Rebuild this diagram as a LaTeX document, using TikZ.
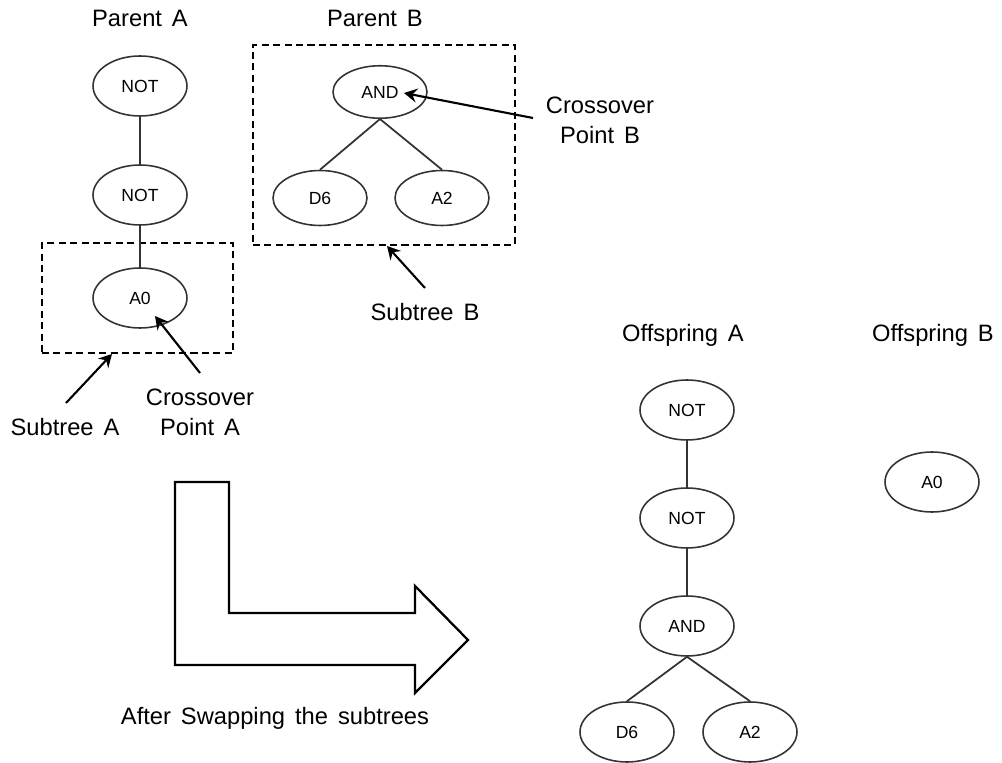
\documentclass[tikz,border=0pt]{standalone}
\usepackage{fontspec}
\setmainfont{Liberation Sans}
\usetikzlibrary{arrows.meta,positioning,shapes.geometric}
\newcommand{\titlefont}{\fontsize{13.5}{17}\selectfont\spaceskip=0.42em\relax}

\begin{document}
\begin{tikzpicture}[x=0.02cm, y=-0.02cm,
    gnode/.style={draw=black!80, line width=0.9pt, ellipse, minimum width=1.88cm, minimum height=1.2cm, inner sep=0pt, font=\fontsize{10}{12}\selectfont},
    title/.style={font=\titlefont, align=center},
    subbox/.style={draw, dashed, line width=1.1pt, dash pattern=on 4pt off 2.5pt, inner sep=0pt},
    edge/.style={draw=black!80, line width=1pt},
    ptr/.style={line width=1.2pt, -{Stealth[length=2.6mm, width=2.8mm, inset=0.9mm]}}]
  \useasboundingbox (0,0) rectangle (1002,763);
  % parent A
  \node[title] (titA) at (140,18) {Parent A};
  \node[gnode] (notA1) at (140,86) {NOT};
  \node[gnode] (notA2) at (140,195) {NOT};
  \node[gnode] (a0A) at (140,298) {A0};
  \node[subbox, minimum width=3.82cm, minimum height=2.2cm] (boxA) at (137.5,298) {};
  \node[title] (subA) at (65,427) {Subtree A};
  \node[title] (crossA) at (200,412) {Crossover\\Point A};
  \coordinate (tailA) at (66,403);
  \coordinate (tipA) at (112,354);
  \coordinate (tailPA) at (200,373);
  \coordinate (tipPA) at (155,316);
  % parent B
  \node[title] (titB) at (375,18) {Parent B};
  \node[gnode, minimum height=1.05cm] (andB) at (380,92) {AND};
  \node[gnode, minimum height=1.1cm] (d6B) at (320,198) {D6};
  \node[gnode, minimum height=1.1cm] (a2B) at (442,198) {A2};
  \node[subbox, minimum width=5.24cm, minimum height=4cm] (boxB) at (384,145) {};
  \node[title] (crossB) at (600,120) {Crossover\\Point B};
  \node[title] (subB) at (425,312) {Subtree B};
  \coordinate (tailPB) at (533,118);
  \coordinate (tipPB) at (404,93);
  \coordinate (tailB) at (425,288);
  \coordinate (tipB) at (387,246);
  % offspring
  \node[title] (titC) at (683,335) {Offspring A};
  \node[title] (titD) at (933,335) {Offspring B};
  \node[gnode] (notC1) at (687,410) {NOT};
  \node[gnode] (notC2) at (687,518) {NOT};
  \node[gnode] (andC) at (687,626) {AND};
  \node[gnode] (d6C) at (627,732) {D6};
  \node[gnode] (a2C) at (750,732) {A2};
  \node[gnode] (a0D) at (932,482) {A0};
  % swap arrow
  \draw[line width=1.3pt, line join=miter] (175,482) -- (229,482) -- (229,613) -- (415,613) -- (415,586)
    -- (468,640) -- (415,693) -- (415,665) -- (175,665) -- cycle;
  \node[title] (swap) at (275,718) {After Swapping the subtrees};
  % connectors
  \foreach \x/\y in {notA1/notA2,notA2/a0A,notC1/notC2,notC2/andC}{\draw[edge] (\x) -- (\y);}
  \foreach \x/\y in {andB/d6B,andB/a2B,andC/d6C,andC/a2C}{\draw[edge] (\x.south) -- (\y.north);}
  \foreach \x/\y in {tailA/tipA,tailPA/tipPA,tailPB/tipPB,tailB/tipB}{\draw[ptr] (\x) -- (\y);}
\end{tikzpicture}
\end{document}
